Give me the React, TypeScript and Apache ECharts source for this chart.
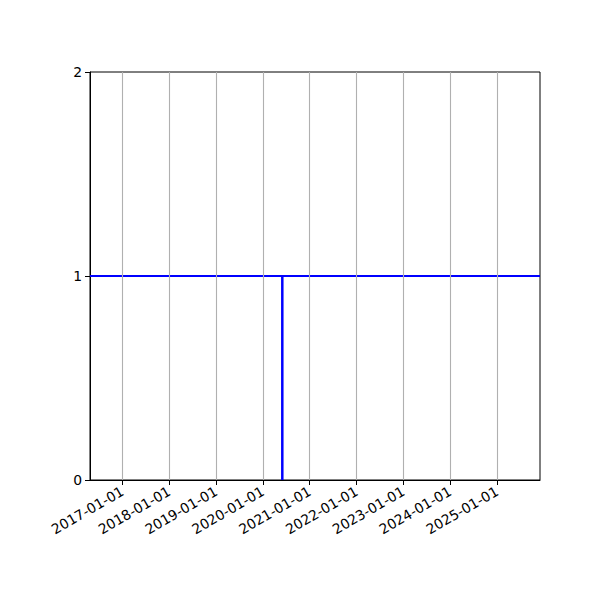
import { useRef, useEffect } from 'react'
import * as echarts from 'echarts'

// x range of the plot (dates)
const xRange = ['2016-04-23', '2025-12-02']
// yearly ticks
const yearTicks = [
  '2017-01-01', '2018-01-01', '2019-01-01', '2020-01-01', '2021-01-01',
  '2022-01-01', '2023-01-01', '2024-01-01', '2025-01-01',
]
const yTicks = [0, 1, 2]
// horizontal level
const levelValue = 1
// vertical marker
const markerDate = '2020-06-01'
const markerValues = [0, 1]

const ts = (d: string) => {
  const [y, m, day] = d.split('-').map(Number)
  return Date.UTC(y, m - 1, day)
}

const pad = (n: number) => (n < 10 ? '0' + n : '' + n)
const fmt = (v: number) => {
  const d = new Date(v)
  return `${d.getUTCFullYear()}-${pad(d.getUTCMonth() + 1)}-${pad(d.getUTCDate())}`
}

export default function App() {
  const ref = useRef<HTMLDivElement>(null)

  useEffect(() => {
    const el = ref.current
    if (!el) return
    const chart = echarts.init(el, null, { renderer: 'svg' })
    const xMin = ts(xRange[0])
    const xMax = ts(xRange[1])
    const tickValues = yearTicks.map(ts)
    const font = { fontFamily: 'DejaVu Sans', fontSize: 13.9, color: '#000' }

    const option: echarts.EChartsOption = {
      animation: false,
      backgroundColor: '#fff',
      grid: {
        left: 90,
        right: 60,
        top: 72,
        bottom: 120,
        show: true,
        borderColor: '#000',
        borderWidth: 1,
        backgroundColor: 'transparent',
      },
      xAxis: {
        type: 'value',
        min: xMin,
        max: xMax,
        axisLine: { show: true, onZero: false, lineStyle: { color: '#000', width: 1 } },
        axisTick: {
          show: true,
          inside: false,
          length: 5,
          customValues: tickValues,
          lineStyle: { color: '#000', width: 1 },
        },
        axisLabel: {
          ...font,
          rotate: 30,
          margin: 10,
          customValues: tickValues,
          formatter: (v: number) => fmt(v),
        },
        splitLine: { show: false },
      },
      yAxis: {
        type: 'value',
        min: 0,
        max: 2,
        interval: 1,
        axisLine: { show: true, lineStyle: { color: '#000', width: 1 } },
        axisTick: { show: true, length: 5, lineStyle: { color: '#000', width: 1 } },
        axisLabel: { ...font, margin: 8, formatter: (v: number) => (yTicks.includes(v) ? String(v) : '') },
        splitLine: { show: false },
      },
      series: [
        {
          type: 'line',
          data: [],
          silent: true,
          z: 1,
          markLine: {
            silent: true,
            symbol: 'none',
            label: { show: false },
            lineStyle: { color: '#b0b0b0', width: 1.1, type: 'solid' },
            data: tickValues.map((t) => ({ xAxis: t })),
          },
        },
        {
          type: 'line',
          data: [
            [xMin, levelValue],
            [xMax, levelValue],
          ],
          symbol: 'none',
          z: 3,
          lineStyle: { color: '#0000ff', width: 2 },
        },
        {
          type: 'line',
          data: markerValues.map((v) => [ts(markerDate), v]),
          symbol: 'none',
          z: 3,
          lineStyle: { color: '#0000ff', width: 2.5 },
        },
      ],
    }

    chart.setOption(option)
    return () => {
      chart.dispose()
    }
  }, [])

  return <div ref={ref} style={{ width: 600, height: 600, margin: -8 }} />
}
